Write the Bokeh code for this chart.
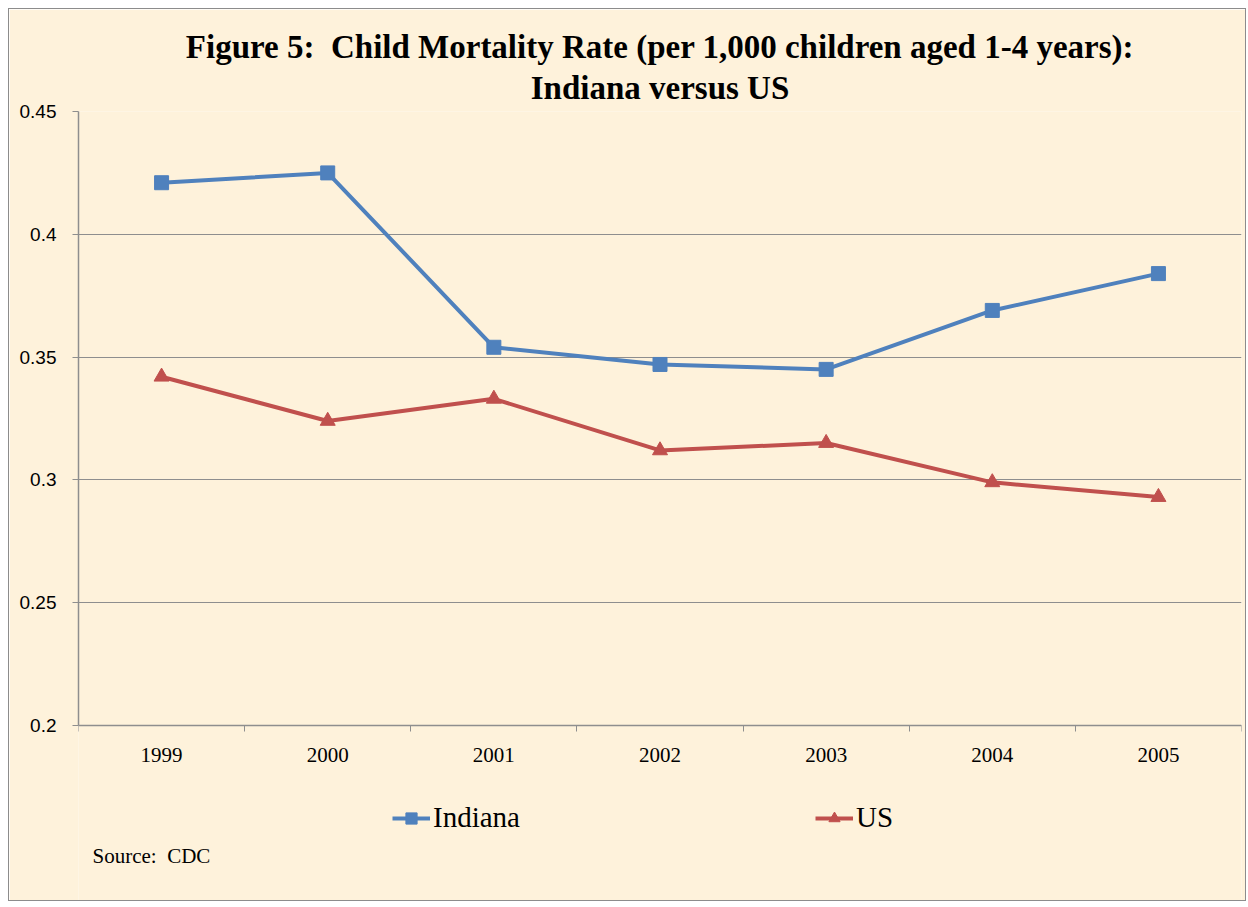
from bokeh.plotting import figure
from bokeh.models import (Range1d, FixedTicker, NumeralTickFormatter, Legend, LegendItem,
                          Title, Label, CustomJSTickFormatter, LinearAxis)
from bokeh.embed import file_html
from bokeh.resources import INLINE

years = ["1999", "2000", "2001", "2002", "2003", "2004", "2005"]
indiana = [0.421, 0.425, 0.354, 0.347, 0.345, 0.369, 0.384]
us = [0.342, 0.324, 0.333, 0.312, 0.315, 0.299, 0.293]
y_ticks = [0.2, 0.25, 0.3, 0.35, 0.4, 0.45]
y_min, y_max = 0.2, 0.45

BG = "#FEF2DB"
BLUE = "#4F81BD"
RED = "#C0504D"
GRID = "#8E8E8E"
NB = "\u00a0"

W, H = 1238, 893
TOP, LEFT, RIGHT = 102, 69, 6
AXIS_PX = 614  # pixel height of the value axis (0.2 .. 0.45)
frame_h = H - TOP
y_start = y_max - frame_h * (y_max - y_min) / AXIS_PX

xs = [i + 0.5 for i in range(len(years))]

p = figure(width=W, height=H, output_backend="svg", toolbar_location=None,
           x_range=Range1d(0, len(years)), y_range=Range1d(y_start, y_max),
           x_axis_location=None,
           min_border_left=LEFT, min_border_right=RIGHT, min_border_top=TOP, min_border_bottom=0)
p.background_fill_color = BG
p.border_fill_color = BG
p.outline_line_color = None
p.styles = {"border": "1px solid #8C8C8C", "margin-top": "8px", "margin-left": "8px"}
p.title.text = ""

t2 = Title(text="Indiana versus US", align="center", text_font="Liberation Serif",
           text_font_size="33px", text_font_style="bold", text_color="black", standoff=12)
t1 = Title(text="Figure 5:" + NB + NB + "Child Mortality Rate (per 1,000 children aged 1-4 years):",
           align="center", text_font="Liberation Serif",
           text_font_size="33px", text_font_style="bold", text_color="black", standoff=-6)
p.add_layout(t2, "above")
p.add_layout(t1, "above")

# grid
p.xgrid.visible = False
p.ygrid.ticker = FixedTicker(ticks=y_ticks)
p.ygrid.grid_line_color = GRID
p.ygrid.grid_line_width = 1.2

# y axis
p.yaxis.ticker = FixedTicker(ticks=y_ticks)
p.yaxis.bounds = (y_min, y_max)
p.yaxis.formatter = NumeralTickFormatter(format="0.0[0]")
p.yaxis.axis_line_color = GRID
p.yaxis.axis_line_width = 1.5
p.yaxis.major_tick_line_color = GRID
p.yaxis.major_tick_out = 6
p.yaxis.major_tick_in = 0
p.yaxis.minor_tick_line_color = None
p.yaxis.major_label_text_font = "Liberation Sans"
p.yaxis.major_label_text_font_size = "19px"
p.yaxis.major_label_text_color = "black"
p.yaxis.major_label_standoff = 16

# x axis: labels at category centres, tick marks at boundaries, fixed at y = 0.2
xaxis = LinearAxis(fixed_location=y_min,
                   ticker=FixedTicker(ticks=xs, minor_ticks=list(range(len(years) + 1))),
                   formatter=CustomJSTickFormatter(args=dict(labels=years),
                                                   code="return labels[Math.floor(tick)];"))
xaxis.axis_line_color = GRID
xaxis.axis_line_width = 1.5
xaxis.major_tick_line_color = None
xaxis.major_tick_out = 0
xaxis.major_tick_in = 0
xaxis.minor_tick_line_color = GRID
xaxis.minor_tick_out = 6
xaxis.minor_tick_in = 0
xaxis.major_label_text_font = "Liberation Serif"
xaxis.major_label_text_font_size = "21px"
xaxis.major_label_text_color = "black"
xaxis.major_label_standoff = 16
p.add_layout(xaxis, "below")

# series
r1 = p.line(xs, indiana, line_color=BLUE, line_width=4)
m1 = p.scatter(xs, indiana, marker="square", size=14, fill_color=BLUE, line_color=BLUE)
r2 = p.line(xs, us, line_color=RED, line_width=4)
m2 = p.scatter(xs, us, marker="triangle", size=15, fill_color=RED, line_color=RED)

legend = Legend(items=[LegendItem(label="Indiana", renderers=[r1, m1]),
                       LegendItem(label="US", renderers=[r2, m2])],
                orientation="horizontal", location=(314, 68), spacing=295,
                glyph_width=38, glyph_height=28, label_standoff=3, margin=0, padding=4,
                label_text_font="Liberation Serif", label_text_font_size="29px",
                label_text_color="black", background_fill_alpha=0, border_line_color=None)
p.add_layout(legend, "center")

src = Label(x=14, y=47, x_units="screen", y_units="screen", text="Source:" + NB + NB + "CDC",
            text_font="Liberation Serif", text_font_size="21px", text_color="black",
            text_baseline="middle")
p.add_layout(src)

open("out.html", "w").write(file_html(p, INLINE))
